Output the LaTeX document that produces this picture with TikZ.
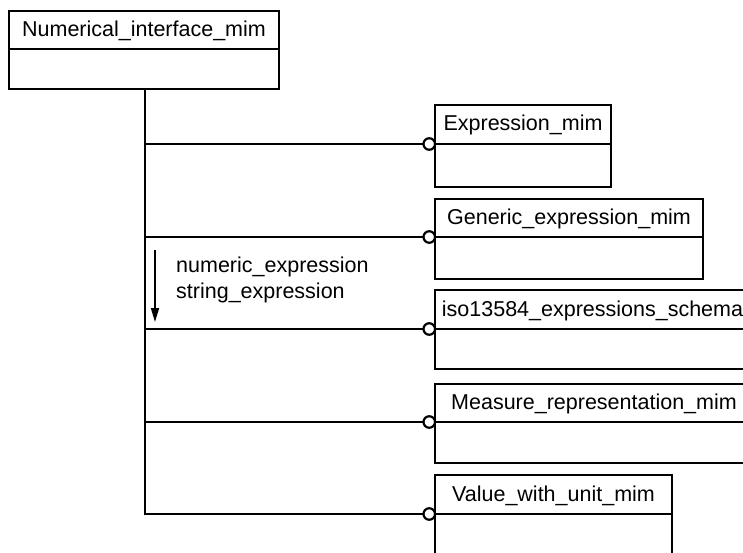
\documentclass[tikz,border=0pt]{standalone}
\usepackage{fontspec}
\setmainfont{Liberation Sans}
\usetikzlibrary{arrows.meta}

\tikzset{
  ln/.style={line width=2.2pt},
  hdr/.style={draw, ln, anchor=north west, inner sep=0pt, outer sep=0pt, align=center,
    font=\fontsize{21.5}{26}\selectfont, text height=16pt, text depth=3pt},
  bdy/.style={draw, ln, anchor=north west, inner sep=0pt, outer sep=0pt},
  ring/.style={circle, draw, ln, fill=white, inner sep=0pt, outer sep=0pt, minimum size=11.5pt},
  lbl/.style={anchor=base west, inner sep=0pt, font=\fontsize{21.5}{26}\selectfont},
}

\begin{document}
\begin{tikzpicture}[x=1pt, y=-1pt]
  \clip (0,0) rectangle (743,553);
  \fill[white] (0,0) rectangle (743,553);

  % source schema
  \node[hdr, minimum width=270pt, minimum height=38pt] (num) at (9,11) {Numerical\_interface\_mim};
  \node[bdy, minimum width=270pt, minimum height=40pt] (numb) at (num.south west) {};

  % referenced schemas
  \node[hdr, minimum width=176pt, minimum height=39pt] (expr) at (435,105) {Expression\_mim};
  \node[bdy, minimum width=176pt, minimum height=43pt] (exprb) at (expr.south west) {};

  \node[hdr, minimum width=268pt, minimum height=38pt] (gen) at (435,199) {Generic\_expression\_mim};
  \node[bdy, minimum width=268pt, minimum height=42pt] (genb) at (gen.south west) {};

  \node[hdr, minimum width=315pt, minimum height=39pt] (iso) at (435,290) {iso13584\_expressions\_schema};
  \node[bdy, minimum width=315pt, minimum height=40pt] (isob) at (iso.south west) {};

  \node[hdr, minimum width=318pt, minimum height=38pt] (meas) at (435,384) {Measure\_representation\_mim};
  \node[bdy, minimum width=318pt, minimum height=41pt] (measb) at (meas.south west) {};

  \node[hdr, minimum width=237pt, minimum height=39pt] (val) at (435,475) {Value\_with\_unit\_mim};
  \node[bdy, minimum width=237pt, minimum height=60pt] (valb) at (val.south west) {};

  % interface rings at the left of each header/body divider
  \node[ring, anchor=east] (r1) at (expr.south west) {};
  \node[ring, anchor=east] (r2) at (gen.south west) {};
  \node[ring, anchor=east] (r3) at (iso.south west) {};
  \node[ring, anchor=east] (r4) at (meas.south west) {};
  \node[ring, anchor=east] (r5) at (val.south west) {};

  % trunk and branches
  \coordinate (trunk) at (145,89);
  \draw[ln] (numb.south -| trunk) -- (trunk |- r5) -- (r5.west);
  \draw[ln] (trunk |- r1) -- (r1.west);
  \draw[ln] (trunk |- r2) -- (r2.west);
  \draw[ln] (trunk |- r3) -- (r3.west);
  \draw[ln] (trunk |- r4) -- (r4.west);

  % imported entity list
  \coordinate (a0) at (155,250);
  \coordinate (a1) at (155,322);
  \draw[line width=1.8pt, -{Triangle[length=14pt, width=8pt]}] (a0) -- (a1);
  \node[lbl] (t1) at (176,272) {numeric\_expression};
  \node[lbl] (t2) at (176,298) {string\_expression};
\end{tikzpicture}
\end{document}
